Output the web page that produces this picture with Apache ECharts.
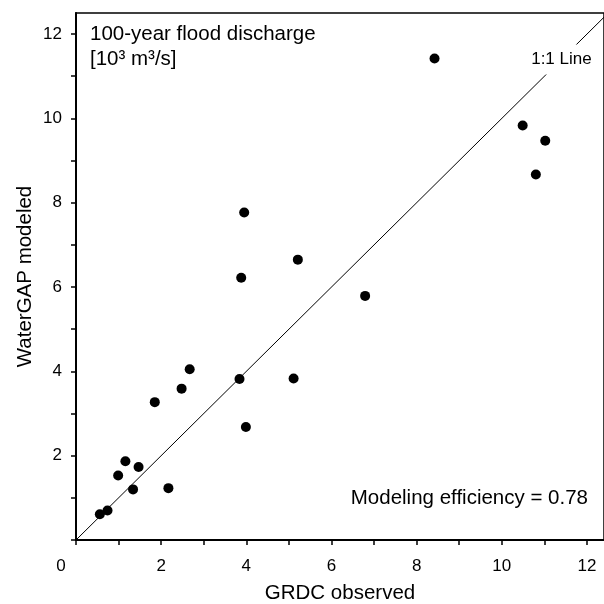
<!DOCTYPE html>
<html>
<head>
<meta charset="utf-8">
<script src="https://cdn.jsdelivr.net/npm/echarts@6/dist/echarts.min.js"></script>
<style>
  html, body { margin: 0; padding: 0; background: #fff; }
  #main { width: 604px; height: 604px; }
</style>
</head>
<body>
<div id="main"></div>
<script>
// GRDC observed vs WaterGAP modeled, 100-year flood discharge [10^3 m3/s]
const observed = [0.56, 0.74, 0.99, 1.16, 1.47, 1.34, 2.17, 1.85, 2.48, 2.67, 3.84,
                  3.99, 5.11, 3.95, 3.88, 5.21, 6.79, 10.80, 8.42, 10.49, 11.02];
const modeled  = [0.61, 0.70, 1.53, 1.87, 1.73, 1.20, 1.23, 3.27, 3.59, 4.05, 3.82,
                  2.68, 3.83, 7.77, 6.22, 6.65, 5.79, 8.67, 11.42, 9.83, 9.47];
// 1:1 line, label sits at the middle point
const oneToOne = [0, 11.4, 12.4];
const tickValues = [0, 1, 2, 3, 4, 5, 6, 7, 8, 9, 10, 11, 12];
const labelValues = [2, 4, 6, 8, 10, 12];
const titleText = '100-year flood discharge\n[10³ m³/s]';
const efficiencyText = 'Modeling efficiency = 0.78';

const font = "'Liberation Sans', Arial, sans-serif";
const chart = echarts.init(document.getElementById('main'));

const axisCommon = {
  type: 'value',
  min: 0,
  nameLocation: 'middle',
  nameMoveOverlap: false,
  nameTextStyle: { fontFamily: font, fontSize: 20.5, color: '#000' },
  axisLine: { show: true, lineStyle: { color: '#000', width: 2, opacity: 1 } },
  axisTick: { show: true, customValues: tickValues, length: 5, lineStyle: { color: '#000', width: 1.5 } },
  axisLabel: { customValues: labelValues, fontFamily: font, fontSize: 17, color: '#000' },
  splitLine: { show: false }
};

const option = {
  animation: false,
  backgroundColor: '#fff',
  grid: {
    left: 76, right: 0, top: 13, bottom: 64,
    outerBoundsMode: 'none',
    containLabel: false,
    show: true, borderColor: '#000', borderWidth: 1.5
  },
  xAxis: Object.assign({}, axisCommon, {
    max: 12.4, name: 'GRDC observed', nameGap: 43,
    axisLabel: Object.assign({}, axisCommon.axisLabel, { margin: 18 })
  }),
  yAxis: Object.assign({}, axisCommon, {
    max: 12.5, name: 'WaterGAP modeled', nameGap: 40,
    axisLabel: Object.assign({}, axisCommon.axisLabel, { margin: 14 })
  }),
  graphic: [
    { type: 'text', left: 90, top: 22,
      style: { text: titleText, font: '20.5px ' + font, fill: '#000', lineHeight: 25 } },
    { type: 'text', x: 588, y: 498,
      style: { text: efficiencyText, font: '20.5px ' + font, fill: '#000', align: 'right', verticalAlign: 'middle' } },
    // corner zero shared by both axes
    { type: 'text', x: 61, y: 566,
      style: { text: '0', font: '17px ' + font, fill: '#000', align: 'center', verticalAlign: 'middle' } }
  ],
  series: [
    {
      type: 'line',
      data: oneToOne.map(v => [v, v]),
      symbol: 'none',
      lineStyle: { color: '#000', width: 1 },
      markPoint: {
        symbol: 'rect',
        symbolSize: [66, 30],
        itemStyle: { color: '#fff' },
        label: { show: true, position: 'inside', formatter: '1:1 Line', fontFamily: font, fontSize: 17, color: '#000' },
        data: [{ coord: [oneToOne[1], oneToOne[1]] }]
      }
    },
    {
      type: 'scatter',
      data: observed.map((x, i) => [x, modeled[i]]),
      symbolSize: 10,
      itemStyle: { color: '#000', opacity: 1 },
      z: 3
    }
  ]
};
chart.setOption(option);
</script>
</body>
</html>
